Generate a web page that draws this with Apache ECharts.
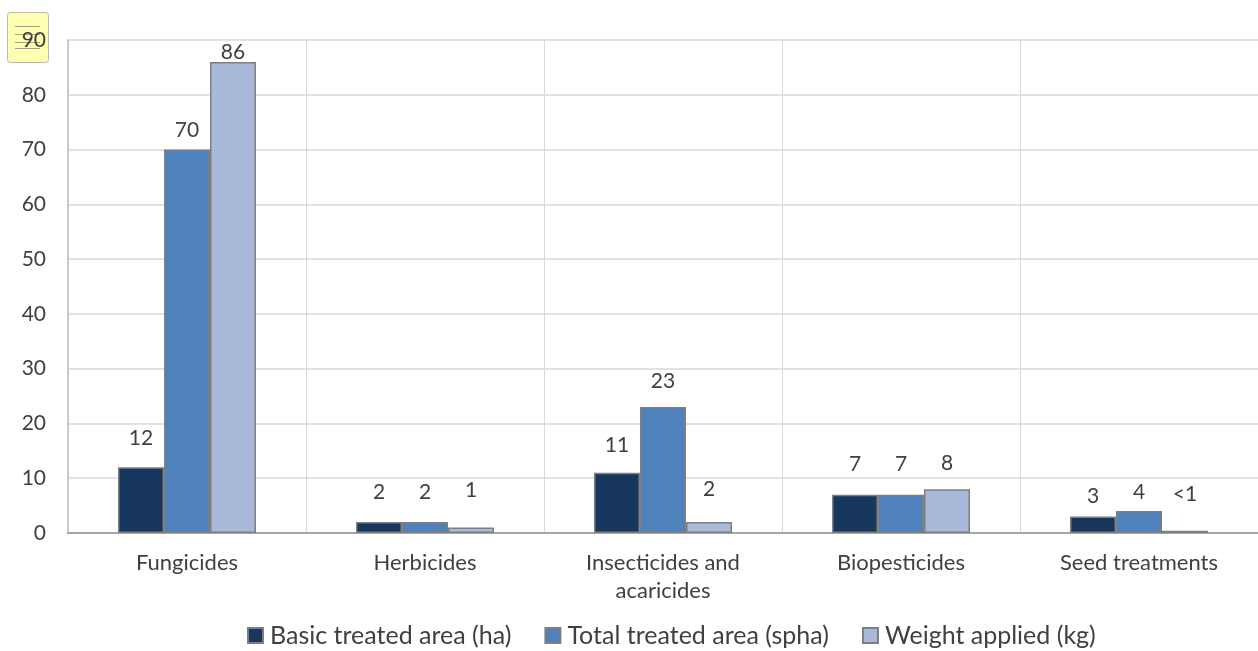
<!DOCTYPE html>
<html>
<head>
<meta charset="utf-8">
<script src="https://cdn.jsdelivr.net/npm/echarts@6/dist/echarts.min.js"></script>
<style>
  html, body { margin: 0; padding: 0; background: #ffffff; }
  #chart { width: 1258px; height: 651px; }
</style>
</head>
<body>
<div id="chart"></div>
<script>
// Pesticide use by product group
const categories = ['Fungicides', 'Herbicides', 'Insecticides and\nacaricides', 'Biopesticides', 'Seed treatments'];
const seriesNames = ['Basic treated area (ha)', 'Total treated area (spha)', 'Weight applied (kg)'];
const basicTreatedArea = [12, 2, 11, 7, 3];
const totalTreatedArea = [70, 2, 23, 7, 4];
const weightApplied = [86, 1, 2, 8, 0.4];
const yTicks = [0, 10, 20, 30, 40, 50, 60, 70, 80, 90];

// presentation
const colors = ['#17375e', '#4f81bd', '#a9b9d9'];
const labelGaps = [
  [19, 19, 17, 20, 10],
  [9, 19, 15, 20, 8],
  [-1, 27, 22, 15, 26]
];
const FONT = 'Lato, "Noto Sans", sans-serif';
const TEXT = '#404040';

function fmt(v) { return v < 1 ? '<1' : String(Math.round(v)); }

const values = [basicTreatedArea, totalTreatedArea, weightApplied];

const chart = echarts.init(document.getElementById('chart'), null, { renderer: 'canvas' });

chart.setOption({
  animation: false,
  backgroundColor: '#ffffff',
  textStyle: { fontFamily: FONT },
  grid: { left: 68, right: 0, top: 40, bottom: 118, containLabel: false },
  legend: {
    top: 618,
    left: 242,
    itemWidth: 15,
    itemHeight: 15,
    itemGap: 33,
    icon: 'rect',
    textStyle: { fontFamily: FONT, fontSize: 25, color: TEXT, padding: [0, 0, 0, 2] },
    data: seriesNames
  },
  xAxis: {
    type: 'category',
    data: categories,
    axisLine: { lineStyle: { color: '#a6a6a6', width: 2 } },
    axisTick: { show: false },
    splitLine: { show: true, lineStyle: { color: '#d9d9d9', width: 1 } },
    axisLabel: { fontFamily: FONT, fontSize: 22, color: TEXT, margin: 16, lineHeight: 28, interval: 0 }
  },
  yAxis: {
    type: 'value',
    min: yTicks[0],
    max: yTicks[yTicks.length - 1],
    interval: yTicks[1] - yTicks[0],
    axisLine: { show: true, lineStyle: { color: '#bfbfbf', width: 1.5 } },
    axisTick: { show: false },
    splitLine: { lineStyle: { color: '#d9d9d9', width: 1.5 } },
    axisLabel: { fontFamily: FONT, fontSize: 21, color: TEXT, margin: 22 }
  },
  series: seriesNames.map((name, si) => ({
    name,
    type: 'bar',
    barGap: '0%',
    barCategoryGap: '42%',
    itemStyle: { color: colors[si], borderColor: '#7f7f7f', borderWidth: 1.5 },
    data: values[si].map((v, ci) => ({
      value: v,
      label: { distance: labelGaps[si][ci] }
    })),
    label: {
      show: true,
      position: 'top',
      fontFamily: FONT,
      fontSize: 21,
      color: TEXT,
      formatter: p => fmt(p.value)
    }
  })),
  graphic: [
    {
      type: 'rect',
      z: 0,
      shape: { x: 7.5, y: 12.5, width: 41, height: 50, r: 3 },
      style: { fill: '#ffffb2', stroke: '#b8b8b8', lineWidth: 1 }
    },
    {
      type: 'group',
      z: 100,
      children: [26, 34, 42, 48].map(y => ({
        type: 'line',
        shape: { x1: 15, y1: y + 0.5, x2: 40, y2: y + 0.5 },
        style: { stroke: '#a0a0a0', lineWidth: 1 }
      }))
    }
  ]
});
</script>
</body>
</html>
